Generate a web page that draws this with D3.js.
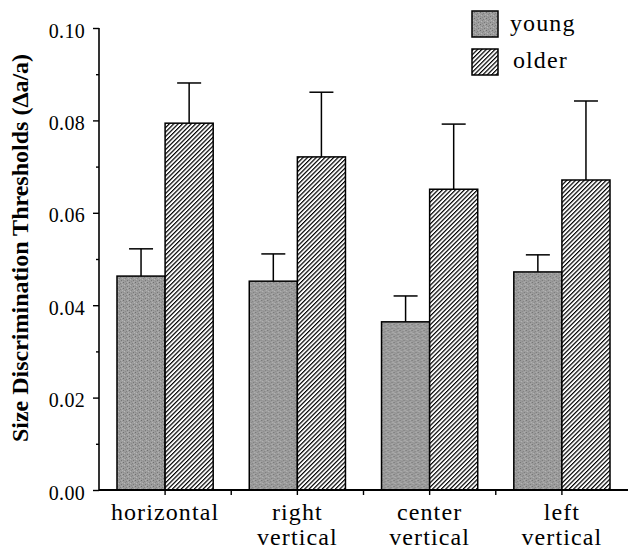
<!DOCTYPE html>
<html>
<head>
<meta charset="utf-8">
<script src="https://cdn.jsdelivr.net/npm/d3@7"></script>
<style>
  html, body { margin: 0; padding: 0; background: #fff; }
  svg { display: block; }
  text { font-family: "Liberation Serif", "Times New Roman", Times, "DejaVu Serif", serif; }
</style>
</head>
<body>
<svg id="chart" width="628" height="552"></svg>
<script>
// ---- data ----
const categories = ["horizontal", "right vertical", "center vertical", "left vertical"];
const categoryLines = [["horizontal"], ["right", "vertical"], ["center", "vertical"], ["left", "vertical"]];
const seriesNames = ["young", "older"];
const youngValues = [0.0463, 0.0452, 0.0364, 0.0472];
const youngErrors = [0.0059, 0.0059, 0.0056, 0.0037];
const olderValues = [0.0794, 0.0721, 0.0651, 0.0671];
const olderErrors = [0.0087, 0.0140, 0.0141, 0.0171];
const yTicks = [0.00, 0.02, 0.04, 0.06, 0.08, 0.10];
const yMinorTicks = [0.01, 0.03, 0.05, 0.07, 0.09];
const yTitle = "Size Discrimination Thresholds (\u0394a/a)";

// ---- layout ----
const svg = d3.select("#chart");

const y = d3.scaleLinear().domain([0, 0.10]).range([490, 28]);
const x0 = d3.scaleBand().domain(categories).range([99, 628]).paddingInner(0.2727).paddingOuter(0.136);
const x1 = d3.scaleBand().domain(seriesNames).range([0, x0.bandwidth()]);

// ---- patterns ----
const defs = svg.append("defs");
const stip = defs.append("pattern").attr("id", "stipple").attr("patternUnits", "userSpaceOnUse")
  .attr("width", 6).attr("height", 6);
stip.append("rect").attr("width", 6).attr("height", 6).attr("fill", "#9c9c9c");
const dots = [[0,0,"#6e6e6e"],[3,1,"#808080"],[1,3,"#b8b8b8"],[4,4,"#767676"],[2,5,"#8a8a8a"],[5,2,"#b4b4b4"],[0,4,"#909090"],[4,0,"#b0b0b0"],[2,2,"#858585"],[5,5,"#a8a8a8"]];
dots.forEach(d => stip.append("rect").attr("x", d[0]).attr("y", d[1]).attr("width", 1).attr("height", 1).attr("fill", d[2]));

const hatch = defs.append("pattern").attr("id", "hatch").attr("patternUnits", "userSpaceOnUse")
  .attr("width", 3.1).attr("height", 10).attr("patternTransform", "rotate(45)");
hatch.append("rect").attr("width", 3.1).attr("height", 10).attr("fill", "#fff");
hatch.append("line").attr("x1", 0.6).attr("x2", 0.6).attr("y1", 0).attr("y2", 10)
  .attr("stroke", "#000").attr("stroke-width", 1.2);

const fills = { young: "url(#stipple)", older: "url(#hatch)" };

// ---- bars ----
const rows = categories.map((c, i) => ({
  cat: c,
  items: [
    { s: "young", v: youngValues[i], e: youngErrors[i] },
    { s: "older", v: olderValues[i], e: olderErrors[i] }
  ]
}));

const groups = svg.append("g").selectAll("g").data(rows).join("g")
  .attr("transform", d => `translate(${x0(d.cat)},0)`);

// error bars (upper only)
groups.selectAll("g.err").data(d => d.items).join("g").attr("class", "err").each(function(d) {
  const g = d3.select(this);
  const cx = x1(d.s) + x1.bandwidth() / 2;
  g.append("line").attr("x1", cx).attr("x2", cx).attr("y1", y(d.v)).attr("y2", y(d.v + d.e))
    .attr("stroke", "#000").attr("stroke-width", 1.5);
  g.append("line").attr("x1", cx - 12).attr("x2", cx + 12).attr("y1", y(d.v + d.e)).attr("y2", y(d.v + d.e))
    .attr("stroke", "#000").attr("stroke-width", 1.5);
});

groups.selectAll("rect").data(d => d.items).join("rect")
  .attr("x", d => x1(d.s))
  .attr("y", d => y(d.v))
  .attr("width", x1.bandwidth())
  .attr("height", d => y(0) - y(d.v))
  .attr("fill", d => fills[d.s])
  .attr("stroke", "#000")
  .attr("stroke-width", 1.5);

// ---- y axis ----
const yAxis = svg.append("g").attr("transform", "translate(99,0)")
  .call(d3.axisLeft(y).tickValues(yTicks).tickFormat(d3.format(".2f")).tickSize(6).tickPadding(8));
yAxis.attr("font-family", null).attr("font-size", null);
yAxis.select(".domain").attr("d", `M0,${y(0.10)}V${y(0)}`).attr("stroke-width", 1.6);
yAxis.selectAll(".tick line").attr("stroke-width", 1.4);
yAxis.selectAll(".tick text").attr("font-size", 20).attr("fill", "#000")
  .attr("letter-spacing", 0.3).attr("dy", "0.45em");
svg.append("g").attr("transform", "translate(99,0)")
  .call(d3.axisLeft(y).tickValues(yMinorTicks).tickFormat("").tickSize(3))
  .call(g => g.select(".domain").remove())
  .selectAll(".tick line").attr("stroke-width", 1.4);

// ---- x axis ----
const xTickPos = [];
categories.forEach(c => { xTickPos.push(x0(c) - x0.step() * x0.paddingInner() / 2); xTickPos.push(x0(c) + x0.bandwidth() / 2); });
const xAxisG = svg.append("g").attr("transform", `translate(0,${y(0)})`);
xAxisG.append("line").attr("x1", 99).attr("x2", 628).attr("y1", 0).attr("y2", 0)
  .attr("stroke", "#000").attr("stroke-width", 1.8);
xAxisG.selectAll("line.t").data(xTickPos.slice(1)).join("line").attr("class", "t")
  .attr("x1", d => d).attr("x2", d => d).attr("y1", 0).attr("y2", 5)
  .attr("stroke", "#000").attr("stroke-width", 1.4);

// category labels (one text per line)
categories.forEach((c, i) => {
  categoryLines[i].forEach((ln, j) => {
    svg.append("text").attr("x", x0(c) + x0.bandwidth() / 2).attr("y", 520 + j * 25)
      .attr("font-size", 24).attr("letter-spacing", 1.1).attr("text-anchor", "middle")
      .attr("fill", "#000").text(ln);
  });
});

// y title
svg.append("text").attr("transform", `translate(28,${(y(0.10) + y(0)) / 2 - 11}) rotate(-90)`)
  .attr("text-anchor", "middle").attr("font-weight", "bold")
  .attr("font-size", 24).attr("fill", "#000").text(yTitle);

// ---- legend ----
const legend = svg.append("g");
seriesNames.forEach((s, i) => {
  legend.append("rect").attr("x", 472).attr("y", 11 + i * 38).attr("width", 26).attr("height", 26)
    .attr("fill", fills[s]).attr("stroke", "#000").attr("stroke-width", 1.5);
  legend.append("text").attr("x", 510 + i * 3).attr("y", 31 + i * 37)
    .attr("font-size", 24).attr("letter-spacing", 1.1)
    .attr("fill", "#000").text(s);
});
</script>
</body>
</html>
